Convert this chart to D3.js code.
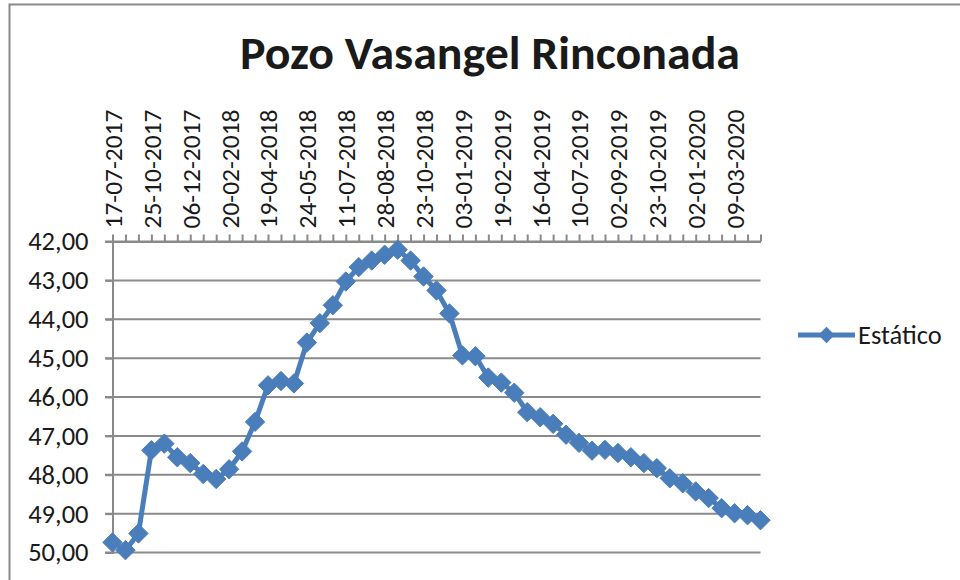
<!DOCTYPE html>
<html lang="es">
<head>
<meta charset="UTF-8">
<title>Pozo Vasangel Rinconada</title>
<script src="https://d3js.org/d3.v7.min.js"></script>
<style>
  body { margin: 0; background: #fff; }
  text { font-family: Carlito, Calibri, Lato, sans-serif; fill: #1a1a1a; }
</style>
</head>
<body>
<script>
// nivel estático (m) por medición, en orden
const valores = [
  49.74, 49.94, 49.51, 47.37, 47.20, 47.55, 47.70, 47.98, 48.11, 47.86,
  47.40, 46.64, 45.70, 45.59, 45.65, 44.60, 44.10, 43.64, 43.03, 42.66,
  42.49, 42.34, 42.21, 42.49, 42.90, 43.26, 43.85, 44.93, 44.95, 45.50,
  45.63, 45.89, 46.39, 46.52, 46.69, 46.97, 47.18, 47.38, 47.36, 47.44,
  47.55, 47.70, 47.83, 48.09, 48.22, 48.43, 48.60, 48.86, 48.99, 49.04,
  49.17
];
// etiquetas visibles del eje (una cada 3 mediciones)
const fechas = [
  "17-07-2017", "25-10-2017", "06-12-2017", "20-02-2018", "19-04-2018",
  "24-05-2018", "11-07-2018", "28-08-2018", "23-10-2018", "03-01-2019",
  "19-02-2019", "16-04-2019", "10-07-2019", "02-09-2019", "23-10-2019",
  "02-01-2020", "09-03-2020"
];
const pasoEtiqueta = 3;
const yTicks = [42, 43, 44, 45, 46, 47, 48, 49, 50];
const serie = "Estático";
const titulo = "Pozo Vasangel Rinconada";

const width = 960, height = 580;
const azul = "#4a7ebb", gris = "#8a8a8a";
const fuente = "Carlito, Calibri, Lato, sans-serif";

const svg = d3.select("body").append("svg")
  .attr("width", width)
  .attr("height", height);

// borde del área del gráfico
svg.append("rect")
  .attr("x", 9.5).attr("y", 4.5)
  .attr("width", 980).attr("height", 620)
  .attr("fill", "#fff")
  .attr("stroke", gris)
  .attr("stroke-width", 2);

svg.append("text")
  .attr("x", 490).attr("y", 69)
  .attr("text-anchor", "middle")
  .attr("font-size", 46)
  .attr("font-weight", "bold")
  .attr("textLength", 500)
  .attr("lengthAdjust", "spacingAndGlyphs")
  .text(titulo);

const x = d3.scalePoint()
  .domain(d3.range(valores.length))
  .range([112.5, 760.5]);

// eje invertido: 42 arriba, 50 abajo
const y = d3.scaleLinear()
  .domain([42, 50])
  .range([241.5, 552.5]);

// líneas de división
svg.append("g")
  .selectAll("line")
  .data(yTicks)
  .join("line")
  .attr("x1", 105).attr("x2", 760.5)
  .attr("y1", d => y(d)).attr("y2", d => y(d))
  .attr("stroke", gris)
  .attr("stroke-width", 2);

// eje Y
const yAxis = svg.append("g")
  .attr("transform", "translate(112.5,0)")
  .call(d3.axisLeft(y).tickValues(yTicks).tickSize(7).tickPadding(17)
    .tickFormat(d => d3.format(".2f")(d).replace(".", ",")));
yAxis.select(".domain").attr("stroke", gris).attr("stroke-width", 2);
yAxis.selectAll(".tick line").attr("stroke", gris).attr("stroke-width", 2);
yAxis.selectAll("text")
  .attr("font-size", 26.5)
  .attr("font-family", fuente)
  .attr("fill", "#1a1a1a");

// eje X arriba
const xAxis = svg.append("g")
  .attr("transform", "translate(0,241.5)")
  .call(d3.axisTop(x).tickSize(7).tickSizeOuter(0)
    .tickFormat(i => i % pasoEtiqueta === 0 ? (fechas[i / pasoEtiqueta] || "") : ""));
xAxis.select(".domain").attr("stroke", gris).attr("stroke-width", 2);
xAxis.selectAll(".tick line").attr("stroke", gris).attr("stroke-width", 2);
xAxis.selectAll("text")
  .attr("font-size", 25.5)
  .attr("font-family", fuente)
  .attr("fill", "#1a1a1a")
  .attr("text-anchor", "start")
  .attr("transform", "translate(0,-13) rotate(-90)")
  .attr("x", 0).attr("y", 0)
  .attr("dy", "0.35em");

// serie
const linea = d3.line()
  .x((d, i) => x(i))
  .y(d => y(d));

svg.append("path")
  .datum(valores)
  .attr("fill", "none")
  .attr("stroke", azul)
  .attr("stroke-width", 5)
  .attr("stroke-linejoin", "round")
  .attr("d", linea);

const diamante = d3.symbol().type(d3.symbolDiamond2).size(240);

svg.append("g")
  .selectAll("path")
  .data(valores)
  .join("path")
  .attr("transform", (d, i) => `translate(${x(i)},${y(d)})`)
  .attr("d", diamante)
  .attr("fill", azul)
  .attr("stroke", azul)
  .attr("stroke-width", 1);

// leyenda
const leyenda = svg.append("g").attr("transform", "translate(798,335)");
leyenda.append("line")
  .attr("x1", 0).attr("x2", 57)
  .attr("stroke", azul).attr("stroke-width", 5);
leyenda.append("path")
  .attr("transform", "translate(28.5,0)")
  .attr("d", d3.symbol().type(d3.symbolDiamond2).size(170))
  .attr("fill", azul);
leyenda.append("text")
  .attr("x", 60).attr("y", 0)
  .attr("dy", "0.35em")
  .attr("font-size", 26.5)
  .text(serie);
</script>
</body>
</html>
